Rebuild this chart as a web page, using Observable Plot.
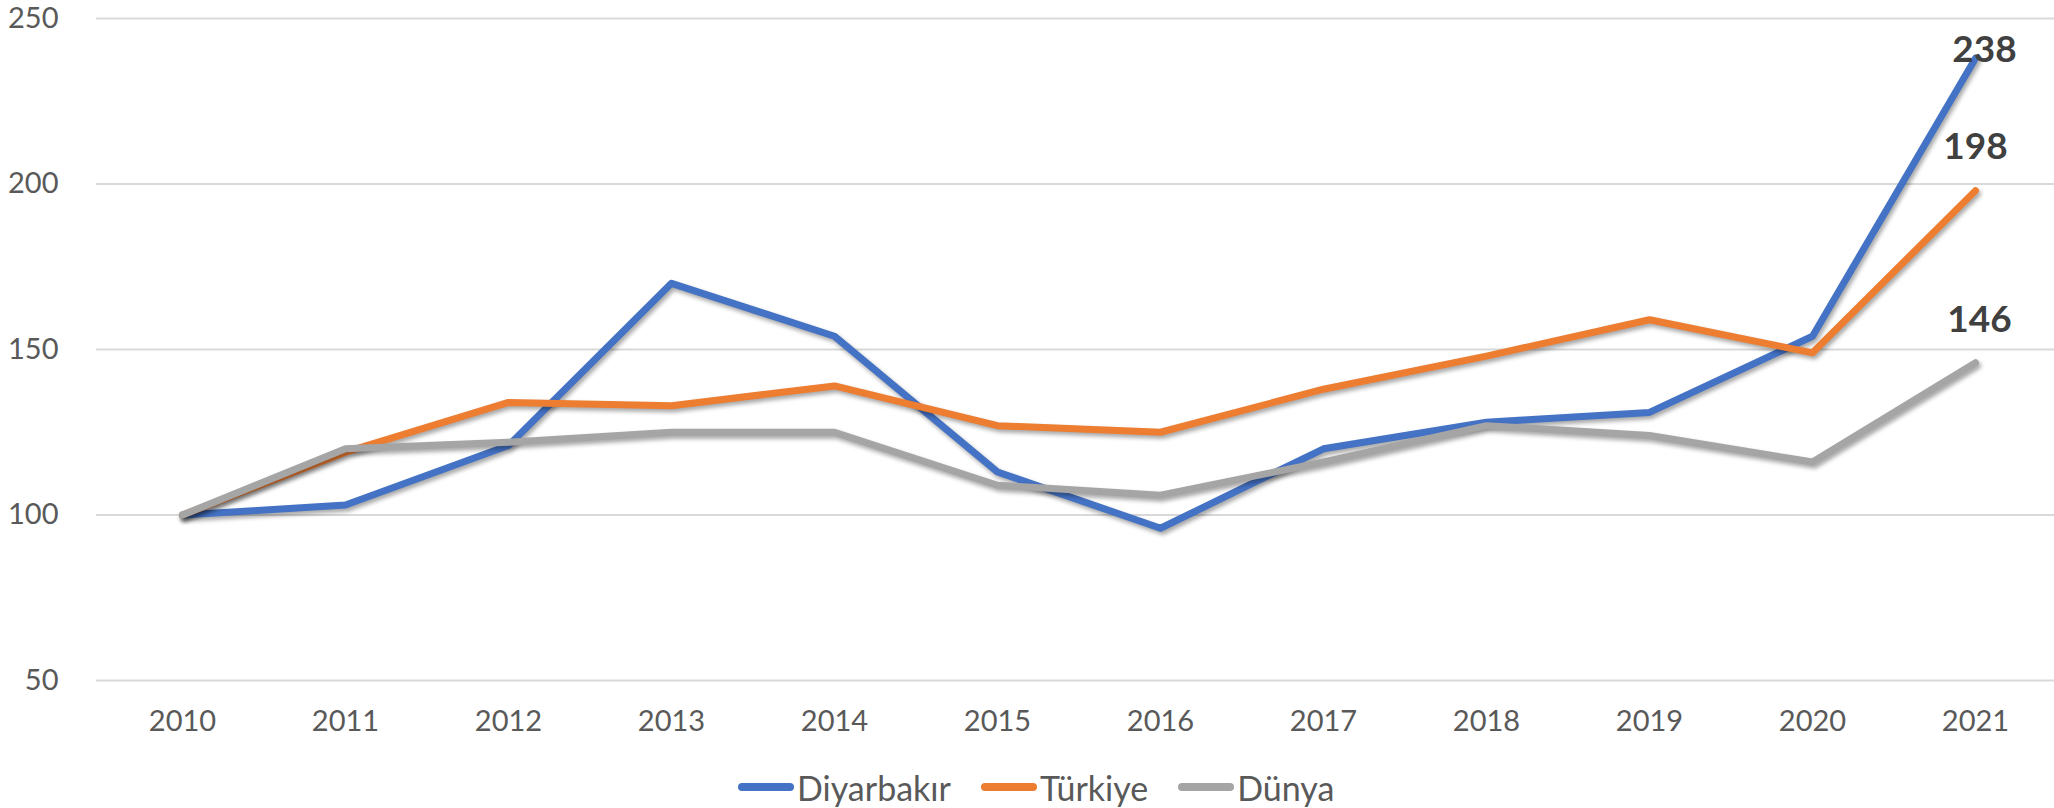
<!DOCTYPE html>
<html>
<head>
<meta charset="utf-8">
<script src="https://cdn.jsdelivr.net/npm/d3@7"></script>
<script src="https://cdn.jsdelivr.net/npm/@observablehq/plot@0.6"></script>
<style>
  html, body { margin: 0; padding: 0; background: #ffffff; }
  body { font-family: Lato, "Open Sans", sans-serif; width: 2054px; overflow: hidden; }
  #legend { height: 74px; display: flex; align-items: center; padding-left: 738px; font-size: 34px; color: #595959; }
  .item { display: flex; align-items: center; margin-right: 30px; }
  .sw { display: inline-block; width: 56px; height: 8px; border-radius: 4px; margin-right: 3px; }
</style>
</head>
<body>
<div id="chart"></div>
<div id="legend"></div>
<script>
const years = [2010, 2011, 2012, 2013, 2014, 2015, 2016, 2017, 2018, 2019, 2020, 2021];
const diyarbakir = [100, 103, 121, 170, 154, 113, 96, 120, 128, 131, 154, 238];
const turkiye    = [100, 119, 134, 133, 139, 127, 125, 138, 148, 159, 149, 198];
const dunya      = [100, 120, 122, 125, 125, 109, 106, 116, 127, 124, 116, 146];
const seriesNames = ["Diyarbakır", "Türkiye", "Dünya"];
const seriesColors = ["#4472C4", "#ED7D31", "#A5A5A5"];
const yTicks = [50, 100, 150, 200, 250];

const seriesValues = [diyarbakir, turkiye, dunya];
const data = seriesNames.flatMap((name, s) =>
  years.map((year, i) => ({ series: name, year, value: seriesValues[s][i] })));
const last = name => data.filter(d => d.series === name && d.year === years[years.length - 1]);

const chart = Plot.plot({
  width: 2054,
  height: 750,
  marginLeft: 96,
  marginRight: 0,
  marginTop: 18,
  marginBottom: 70,
  style: { fontFamily: "Lato, 'Open Sans', sans-serif", color: "#595959", background: "#ffffff" },
  x: { type: "point", domain: years, range: [178, 1978], padding: 0 },
  y: { domain: [50, 250] },
  color: { domain: seriesNames, range: seriesColors },
  marks: [
    Plot.ruleY(yTicks, { stroke: "#D9D9D9", strokeWidth: 2 }),
    Plot.axisY(yTicks, { tickSize: 0, tickPadding: 38, fontSize: 29, label: null }),
    Plot.axisX(years, { tickSize: 0, tickPadding: 30, fontSize: 29, label: null, tickFormat: d => String(d) }),
    Plot.line(data, { x: "year", y: "value", z: "series", stroke: "series", strokeWidth: 7, strokeLinejoin: "round", strokeLinecap: "round" }),
    Plot.text(last("Diyarbakır"), { x: "year", y: "value", text: d => String(d.value), dx: 9, dy: -8, fontSize: 37, fontWeight: "bold", fill: "#404040" }),
    Plot.text(last("Türkiye"), { x: "year", y: "value", text: d => String(d.value), dx: 0, dy: -43, fontSize: 37, fontWeight: "bold", fill: "#404040" }),
    Plot.text(last("Dünya"), { x: "year", y: "value", text: d => String(d.value), dx: 4, dy: -43, fontSize: 37, fontWeight: "bold", fill: "#404040" })
  ]
});
document.getElementById("chart").appendChild(chart);
d3.select(chart).selectAll('g[aria-label="line"] path')
  .style("filter", "drop-shadow(2px 3px 2px rgba(0,0,0,0.35))");

const legend = d3.select("#legend");
seriesNames.forEach((name, i) => {
  const item = legend.append("div").attr("class", "item");
  item.append("span").attr("class", "sw").style("background", seriesColors[i]);
  item.append("span").text(name);
});
</script>
</body>
</html>
